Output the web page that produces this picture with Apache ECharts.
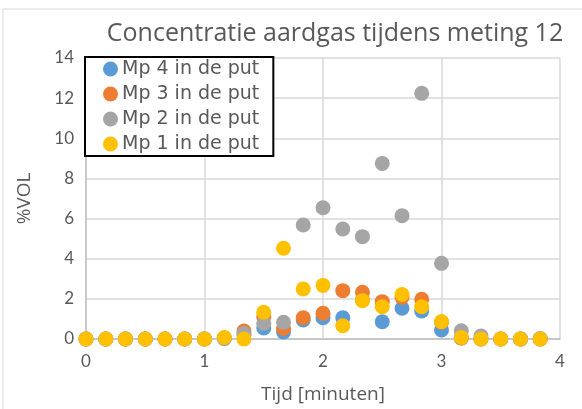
<!DOCTYPE html>
<html>
<head>
<meta charset="utf-8">
<script src="https://cdn.jsdelivr.net/npm/echarts@6/dist/echarts.min.js"></script>
<style>
  html, body { margin: 0; padding: 0; background: #fff; }
  #chart { width: 582px; height: 409px; }
</style>
</head>
<body>
<div id="chart"></div>
<script>
// tijd in minuten (elke 10 seconden)
const tijd = [0, 0.167, 0.333, 0.5, 0.667, 0.833, 1.0, 1.167, 1.333, 1.5, 1.667, 1.833,
              2.0, 2.167, 2.333, 2.5, 2.667, 2.833, 3.0, 3.167, 3.333, 3.5, 3.667, 3.833];

const mp4 = [0, 0, 0, 0, 0, 0, 0, 0.05, 0.2, 0.55, 0.35, 0.95,
             1.06, 1.06, 1.95, 0.86, 1.53, 1.4, 0.45, 0.05, 0, 0, 0, 0];
const mp3 = [0, 0, 0, 0, 0, 0, 0, 0.05, 0.4, 1.1, 0.53, 1.06,
             1.28, 2.41, 2.33, 1.86, 2.08, 1.98, 0.85, 0.05, 0, 0, 0, 0];
const mp2 = [0, 0, 0, 0, 0, 0, 0, 0.02, 0.28, 0.78, 0.83, 5.68,
             6.54, 5.48, 5.1, 8.75, 6.14, 12.24, 3.77, 0.41, 0.15, 0, 0, 0.02];
const mp1 = [0, 0, 0, 0, 0, 0, 0, 0.08, 0, 1.33, 4.52, 2.49,
             2.67, 0.66, 1.91, 1.61, 2.22, 1.61, 0.86, 0.08, 0, 0, 0, 0];

const seriesNames = ['Mp 4 in de put', 'Mp 3 in de put', 'Mp 2 in de put', 'Mp 1 in de put'];
const seriesValues = [mp4, mp3, mp2, mp1];
const colors = ['#5B9BD5', '#ED7D31', '#A5A5A5', '#FFC000'];

const FONT = 'Lato';
const chart = echarts.init(document.getElementById('chart'));

const option = {
    animation: false,
    color: colors,
    title: {
        text: 'Concentratie aardgas tijdens meting 12',
        left: 330,
        top: 16,
        textAlign: 'center',
        textStyle: { fontFamily: 'Open Sans', fontSize: 25, fontWeight: 'normal', color: '#595959' }
    },
    grid: { left: 86, right: 22, top: 58, bottom: 70, containLabel: false },
    legend: {
        left: 85,
        top: 57,
        orient: 'vertical',
        itemGap: 5,
        itemWidth: 15,
        itemHeight: 15,
        padding: [2, 14, 2, 18],
        borderColor: '#000',
        borderWidth: 2,
        backgroundColor: '#fff',
        icon: 'circle',
        itemStyle: { opacity: 1 },
        textStyle: { fontFamily: 'DejaVu Sans', fontSize: 19, lineHeight: 20, color: '#595959', padding: [0, 0, 0, -1] },
        data: seriesNames
    },
    xAxis: {
        type: 'value',
        min: 0, max: 4, interval: 1,
        name: 'Tijd [minuten]',
        nameLocation: 'middle',
        nameGap: 46,
        nameTextStyle: { fontFamily: 'Open Sans', fontSize: 19, color: '#595959' },
        axisLine: { show: true, lineStyle: { color: '#BFBFBF', width: 1.5 } },
        axisTick: { show: false },
        axisLabel: { fontFamily: FONT, fontSize: 17, color: '#595959', margin: 14 },
        splitLine: { show: true, lineStyle: { color: '#D9D9D9', width: 1.5 } }
    },
    yAxis: {
        type: 'value',
        min: 0, max: 14, interval: 2,
        name: '%VOL',
        nameLocation: 'middle',
        nameGap: 52,
        nameTextStyle: { fontFamily: 'Open Sans', fontSize: 19, color: '#595959' },
        axisLine: { show: true, lineStyle: { color: '#BFBFBF', width: 1.5 } },
        axisTick: { show: false },
        axisLabel: { fontFamily: FONT, fontSize: 17, color: '#595959', margin: 12 },
        splitLine: { show: true, lineStyle: { color: '#D9D9D9', width: 1.5 } }
    },
    graphic: [{
        type: 'rect',
        shape: { x: 3, y: 9, width: 600, height: 420 },
        style: { fill: 'none', stroke: '#D9D9D9', lineWidth: 1 },
        silent: true,
        z: -1
    }],
    series: seriesNames.map((name, i) => ({
        name: name,
        type: 'scatter',
        symbol: 'circle',
        symbolSize: 15,
        itemStyle: { opacity: 1 },
        data: tijd.map((t, k) => [t, seriesValues[i][k]]),
        z: 2 + i
    }))
};

chart.setOption(option);
</script>
</body>
</html>
